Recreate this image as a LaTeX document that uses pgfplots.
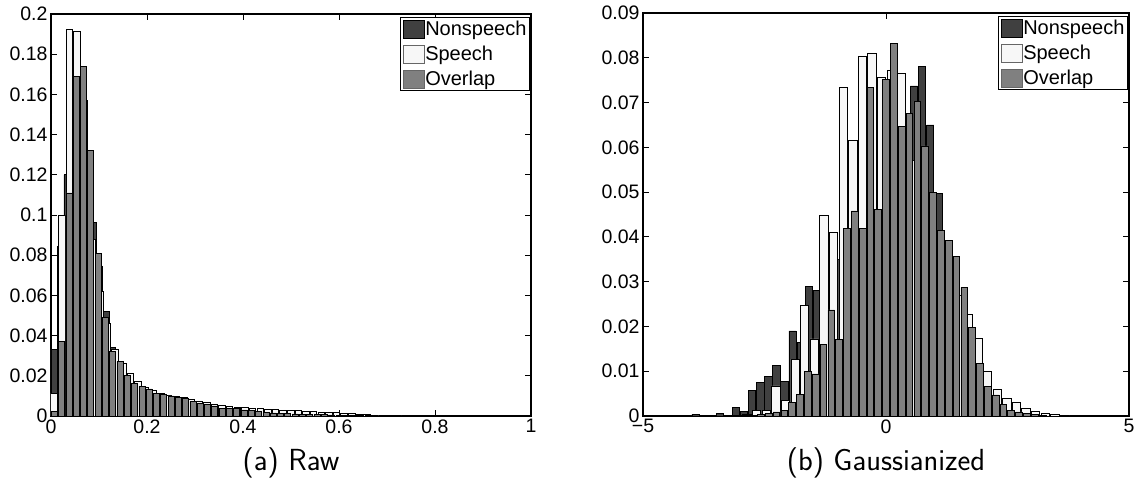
\documentclass[border=0pt]{standalone}
\usepackage{pgfplots}
\pgfplotsset{compat=1.18}
\usepackage{fontspec}
\setmainfont{Liberation Sans}
\definecolor{nons}{gray}{0.25}
\definecolor{spch}{gray}{0.97}
\definecolor{ovl}{gray}{0.5}
\pgfplotsset{
  hstyle/.style={
    scale only axis,
    anchor=south west,
    axis line style={line width=1.1pt},
    tick align=inside,
    tick pos=both,
    major tick length=6pt,
    every tick/.style={black, line width=0.8pt},
    tick label style={font=\fontsize{19.5}{22}\selectfont},
    /pgf/number format/assume math mode=true,
    scaled ticks=false,
    ymin=0,
    legend cell align=left,
    legend style={at={(1,1)}, anchor=north east, xshift=-1pt, yshift=-3pt,
      draw=black, line width=1.1pt, font=\fontsize{20}{22}\selectfont,
      inner sep=2pt, row sep=6.5pt,
      nodes={inner sep=1pt}},
  },
  nonsb/.style={ybar, bar shift=0pt, fill=nons, draw=black, line width=0.7pt,
    legend image code/.code={\draw[fill=nons, draw=black, line width=0.7pt] (0pt,-9pt) rectangle (21pt,9pt);}},
  spchb/.style={ybar, bar shift=0pt, fill=spch, draw=black, line width=0.7pt,
    legend image code/.code={\draw[fill=spch, draw=black!60, line width=0.7pt] (0pt,-9pt) rectangle (21pt,9pt);}},
  ovlb/.style={ybar, bar shift=0pt, fill=ovl, draw=black, line width=0.7pt,
    legend image code/.code={\draw[fill=ovl, draw=black!60, line width=0.7pt] (0pt,-9pt) rectangle (21pt,9pt);}},
}
\begin{document}
\begin{tikzpicture}
\useasboundingbox (0,0) rectangle (1142pt,487pt);
% ---------------- (a) Raw ----------------
\begin{axis}[hstyle, at={(51pt,71pt)}, width=480pt, height=402pt,
  xmin=0, xmax=1, ymax=0.2,
  xtick={0,0.2,0.4,0.6,0.8,1}, xticklabels={0,0.2,0.4,0.6,0.8,1},
  ytick={0,0.02,0.04,0.06,0.08,0.1,0.12,0.14,0.16,0.18,0.2},
  yticklabels={0,0.02,0.04,0.06,0.08,0.1,0.12,0.14,0.16,0.18,0.2},
  legend entries={Nonspeech,Speech,Overlap}]
\addplot[nonsb, bar width=0.0128] coordinates {
(0.0063,0.033) (0.0198,0.0843) (0.0333,0.12) (0.0468,0.15) (0.0603,0.145) (0.0738,0.125) (0.0873,0.0964) (0.1008,0.0747) (0.1143,0.052) (0.1278,0.034) (0.1413,0.025) (0.1548,0.019) (0.1683,0.0155) (0.1818,0.013) (0.1953,0.011) (0.2088,0.0095) (0.2223,0.0085) (0.2358,0.0077) (0.2493,0.007) (0.2628,0.0062) (0.2763,0.0055) (0.2898,0.0048) (0.3033,0.0042) (0.3168,0.0036) (0.3303,0.003) (0.3438,0.0026) (0.3573,0.0022) (0.3708,0.0018) (0.3843,0.0015) (0.3978,0.0012) (0.4113,0.001) (0.4248,0.0008) (0.4383,0.0006) (0.4518,0.0005) (0.4653,0.0004) (0.4788,0.0003) (0.4923,0.0002) (0.5058,0.0001)
};
\addplot[spchb, bar width=0.0135] coordinates {
(0.0063,0.0113) (0.0222,0.0998) (0.0381,0.1925) (0.0540,0.1914) (0.0699,0.157) (0.0858,0.088) (0.1017,0.062) (0.1176,0.046) (0.1335,0.033) (0.1494,0.026) (0.1653,0.021) (0.1812,0.017) (0.1971,0.0145) (0.2130,0.013) (0.2289,0.0115) (0.2448,0.0105) (0.2607,0.0098) (0.2766,0.0092) (0.2925,0.0085) (0.3084,0.0075) (0.3243,0.0068) (0.3402,0.006) (0.3561,0.0055) (0.3720,0.0048) (0.3879,0.0045) (0.4038,0.0042) (0.4197,0.004) (0.4356,0.0038) (0.4515,0.0035) (0.4674,0.0033) (0.4833,0.003) (0.4992,0.0028) (0.5151,0.0026) (0.5310,0.0024) (0.5469,0.0022) (0.5628,0.002) (0.5787,0.0018) (0.5946,0.0016) (0.6105,0.0013) (0.6264,0.0011) (0.6423,0.0009) (0.6582,0.0007) (0.6741,0.0005) (0.6900,0.0004) (0.7059,0.0003) (0.7218,0.0002) (0.7377,0.0002) (0.7536,0.0001)
};
\addplot[ovlb, bar width=0.0125] coordinates {
(0.0069,0.0022) (0.0221,0.037) (0.0373,0.111) (0.0525,0.169) (0.0677,0.174) (0.0829,0.132) (0.0981,0.081) (0.1133,0.049) (0.1285,0.032) (0.1437,0.027) (0.1589,0.020) (0.1741,0.016) (0.1893,0.0148) (0.2045,0.0135) (0.2197,0.0114) (0.2349,0.0106) (0.2501,0.010) (0.2653,0.0091) (0.2805,0.0088) (0.2957,0.0072) (0.3109,0.0063) (0.3261,0.0056) (0.3413,0.005) (0.3565,0.0039) (0.3717,0.0038) (0.3869,0.0037) (0.4021,0.003) (0.4173,0.0028) (0.4325,0.0022) (0.4477,0.0018) (0.4629,0.0015) (0.4781,0.0013) (0.4933,0.0012) (0.5085,0.001) (0.5237,0.0009) (0.5389,0.0008) (0.5541,0.0007) (0.5693,0.0006) (0.5845,0.0005) (0.5997,0.0004) (0.6149,0.0003) (0.6301,0.0003) (0.6453,0.0002) (0.6605,0.0001)
};
\end{axis}
% ---------------- (b) Gaussianized ----------------
\begin{axis}[hstyle, at={(643pt,71pt)}, width=486pt, height=403pt,
  xmin=-5, xmax=5, ymax=0.09,
  xtick={-5,0,5}, xticklabels={−5,0,5},
  ytick={0,0.01,0.02,0.03,0.04,0.05,0.06,0.07,0.08,0.09},
  yticklabels={0,0.01,0.02,0.03,0.04,0.05,0.06,0.07,0.08,0.09},
  legend entries={Nonspeech,Speech,Overlap}]
\addplot[nonsb, bar width=0.15] coordinates {
(-3.920,0.0004) (-3.754,0.0002) (-3.587,0.0001) (-3.421,0.0006) (-3.254,0.0002) (-3.088,0.0019) (-2.921,0.001) (-2.755,0.0058) (-2.588,0.0075) (-2.422,0.0089) (-2.255,0.0112) (-2.089,0.0078) (-1.922,0.019) (-1.756,0.0165) (-1.589,0.029) (-1.423,0.028) (-1.256,0.03) (-1.090,0.0326) (-0.923,0.035) (-0.757,0.0475) (-0.590,0.05) (-0.424,0.055) (-0.257,0.0486) (-0.091,0.058) (0.076,0.062) (0.243,0.06) (0.409,0.06) (0.576,0.0737) (0.742,0.078) (0.909,0.065) (1.075,0.0497) (1.242,0.038) (1.408,0.03) (1.575,0.022) (1.741,0.015) (1.908,0.0095) (2.074,0.006) (2.241,0.0035) (2.407,0.0018) (2.574,0.0009) (2.740,0.0004) (2.907,0.0002)
};
\addplot[spchb, bar width=0.172] coordinates {
(-3.060,0.0002) (-2.862,0.0004) (-2.664,0.0013) (-2.466,0.0012) (-2.268,0.0067) (-2.070,0.0034) (-1.872,0.0127) (-1.674,0.0246) (-1.476,0.0172) (-1.278,0.0448) (-1.080,0.0411) (-0.882,0.0734) (-0.684,0.0616) (-0.486,0.0804) (-0.288,0.081) (-0.090,0.0756) (0.108,0.0773) (0.306,0.0765) (0.504,0.057) (0.702,0.052) (0.900,0.045) (1.098,0.037) (1.296,0.033) (1.494,0.027) (1.692,0.0228) (1.890,0.0173) (2.088,0.010) (2.286,0.006) (2.484,0.0039) (2.682,0.003) (2.880,0.0017) (3.078,0.001) (3.276,0.0006) (3.474,0.0004) (3.672,0.0002) (3.870,0.0001)
};
\addplot[ovlb, bar width=0.138] coordinates {
(-2.898,0.0001) (-2.737,0.0002) (-2.576,0.0003) (-2.415,0.0005) (-2.254,0.0009) (-2.093,0.0013) (-1.932,0.003) (-1.771,0.0048) (-1.610,0.0099) (-1.449,0.0094) (-1.288,0.0159) (-1.127,0.0237) (-0.966,0.0171) (-0.805,0.0418) (-0.644,0.0458) (-0.483,0.0419) (-0.322,0.0733) (-0.161,0.0462) (0,0.0752) (0.161,0.0832) (0.322,0.0646) (0.483,0.0676) (0.644,0.0703) (0.805,0.0603) (0.966,0.0499) (1.127,0.0415) (1.288,0.0392) (1.449,0.0357) (1.610,0.0287) (1.771,0.0197) (1.932,0.0118) (2.093,0.0066) (2.254,0.0047) (2.415,0.0025) (2.576,0.0013) (2.737,0.0009) (2.898,0.0006) (3.059,0.0003) (3.220,0.0002)
};
\end{axis}
\node[font=\sffamily\fontsize{30.5}{34}\selectfont, anchor=base] at (291pt,17pt) {(a) Raw};
\node[font=\sffamily\fontsize{30.5}{34}\selectfont, anchor=base] at (886pt,17pt) {(b) Gaussianized};
\end{tikzpicture}
\end{document}
